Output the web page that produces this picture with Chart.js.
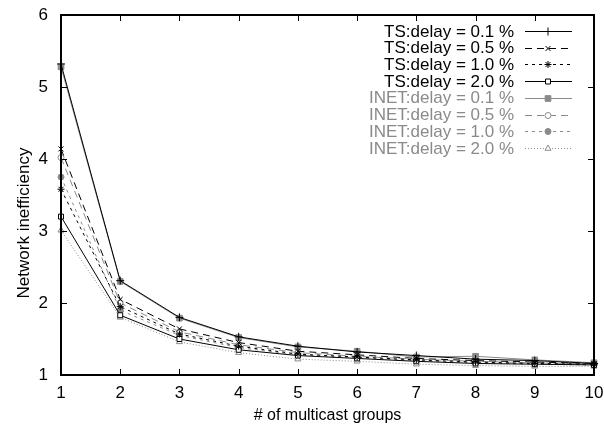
<!DOCTYPE html>
<html>
<head>
<meta charset="utf-8">
<script src="https://cdn.jsdelivr.net/npm/chart.js@4.4.0/dist/chart.umd.min.js"></script>
<style>
  html, body { margin: 0; padding: 0; background: #fff; }
  canvas { display: block; }
</style>
</head>
<body>
<canvas id="chart" width="604" height="431"></canvas>
<script>
// groups on the x axis
const groups = [1, 2, 3, 4, 5, 6, 7, 8, 9, 10];

// TS topology, one list per delay bound
const ts01 = [5.32, 2.31, 1.80, 1.53, 1.40, 1.32, 1.27, 1.22, 1.20, 1.16];
const ts05 = [4.14, 2.05, 1.64, 1.45, 1.33, 1.28, 1.23, 1.20, 1.18, 1.16];
const ts10 = [3.58, 1.95, 1.57, 1.40, 1.29, 1.25, 1.21, 1.18, 1.16, 1.15];
const ts20 = [3.20, 1.83, 1.50, 1.35, 1.27, 1.23, 1.19, 1.16, 1.15, 1.14];

// INET topology
const inet01 = [5.28, 2.30, 1.79, 1.52, 1.39, 1.33, 1.25, 1.26, 1.21, 1.17];
const inet05 = [4.02, 2.00, 1.60, 1.42, 1.31, 1.26, 1.22, 1.19, 1.17, 1.15];
const inet10 = [3.75, 1.90, 1.55, 1.38, 1.28, 1.24, 1.20, 1.17, 1.15, 1.14];
const inet20 = [3.01, 1.80, 1.46, 1.31, 1.22, 1.19, 1.15, 1.13, 1.12, 1.12];

const labels = [
    'TS:delay = 0.1 %', 'TS:delay = 0.5 %', 'TS:delay = 1.0 %', 'TS:delay = 2.0 %',
    'INET:delay = 0.1 %', 'INET:delay = 0.5 %', 'INET:delay = 1.0 %', 'INET:delay = 2.0 %'
];
const seriesValues = [ts01, ts05, ts10, ts20, inet01, inet05, inet10, inet20];

const xTitle = '# of multicast groups';
const yTitle = 'Network inefficiency';

const BLACK = '#000000';
const GREY = '#8a8a8a';

// how each line looks
const styles = [
    { color: BLACK, dash: [], point: 'cross', fill: BLACK, r: 4 },
    { color: BLACK, dash: [7, 5], point: 'crossRot', fill: BLACK, r: 3.5 },
    { color: BLACK, dash: [3, 4], point: 'star', fill: BLACK, r: 3.5 },
    { color: BLACK, dash: [], point: 'rect', fill: '#ffffff', r: 3.5 },
    { color: GREY, dash: [], point: 'rect', fill: GREY, r: 4 },
    { color: GREY, dash: [7, 5], point: 'circle', fill: '#ffffff', r: 3 },
    { color: GREY, dash: [3, 4], point: 'circle', fill: GREY, r: 3 },
    { color: GREY, dash: [1, 2], point: 'triangle', fill: '#ffffff', r: 3.5 }
];

const font = "'Liberation Sans', Arial, Helvetica, sans-serif";

const datasets = seriesValues.map((vals, i) => ({
    label: labels[i],
    data: groups.map((g, j) => ({ x: g, y: vals[j] })),
    borderColor: styles[i].color,
    borderWidth: 1,
    borderDash: styles[i].dash,
    pointStyle: styles[i].point,
    pointRadius: styles[i].r,
    pointBorderColor: styles[i].color,
    pointBackgroundColor: styles[i].fill,
    pointBorderWidth: 1,
    tension: 0,
    clip: false
}));

// gnuplot style frame with inward ticks on all four sides, plus y title
const framePlugin = {
    id: 'frame',
    afterDatasetsDraw(chart) {
        const { ctx, chartArea: a, scales } = chart;
        ctx.save();
        ctx.strokeStyle = BLACK;
        ctx.lineWidth = 1;
        ctx.setLineDash([]);
        ctx.beginPath();
        scales.x.ticks.forEach(t => {
            const px = Math.round(scales.x.getPixelForValue(t.value)) + 0.5;
            ctx.moveTo(px, a.bottom); ctx.lineTo(px, a.bottom - 6);
            ctx.moveTo(px, a.top); ctx.lineTo(px, a.top + 6);
        });
        scales.y.ticks.forEach(t => {
            const py = Math.round(scales.y.getPixelForValue(t.value)) + 0.5;
            ctx.moveTo(a.left, py); ctx.lineTo(a.left + 6, py);
            ctx.moveTo(a.right, py); ctx.lineTo(a.right - 6, py);
        });
        ctx.stroke();
        ctx.lineWidth = 2;
        ctx.strokeRect(a.left, a.top, a.right - a.left, a.bottom - a.top);

        // y title sits a bit below the middle, like the original
        ctx.translate(24, 223);
        ctx.rotate(-Math.PI / 2);
        ctx.font = '17px ' + font;
        ctx.fillStyle = BLACK;
        ctx.textAlign = 'center';
        ctx.textBaseline = 'middle';
        ctx.fillText(yTitle, 0, 0);
        ctx.restore();
    }
};

// key in the top right corner: text first, then line sample
const keyPlugin = {
    id: 'key',
    afterDraw(chart) {
        const { ctx } = chart;
        ctx.save();
        ctx.font = '17px ' + font;
        ctx.textAlign = 'right';
        ctx.textBaseline = 'middle';
        chart.data.datasets.forEach((ds, i) => {
            const y = 31 + i * 16.7;
            ctx.fillStyle = ds.borderColor;
            ctx.fillText(ds.label, 514, y + 1);
            ctx.strokeStyle = ds.borderColor;
            ctx.lineWidth = 1;
            ctx.setLineDash(ds.borderDash);
            ctx.beginPath();
            ctx.moveTo(525, Math.round(y) + 0.5);
            ctx.lineTo(572, Math.round(y) + 0.5);
            ctx.stroke();
            ctx.setLineDash([]);
            ctx.fillStyle = ds.pointBackgroundColor;
            Chart.helpers.drawPoint(ctx, {
                pointStyle: ds.pointStyle,
                radius: ds.pointRadius,
                borderWidth: 1,
                rotation: 0
            }, 548, Math.round(y) + 0.5);
        });
        ctx.restore();
    }
};

new Chart(document.getElementById('chart'), {
    type: 'line',
    data: { datasets },
    options: {
        responsive: false,
        animation: false,
        layout: { padding: { top: 15, right: 10, left: 0, bottom: 0 } },
        plugins: {
            legend: { display: false },
            tooltip: { enabled: false }
        },
        scales: {
            x: {
                type: 'linear',
                min: 1,
                max: 10,
                grid: { display: false, drawTicks: false },
                border: { display: false },
                ticks: { stepSize: 1, color: BLACK, font: { family: font, size: 17 }, padding: 8, maxRotation: 0 },
                title: { display: true, text: xTitle, color: BLACK, font: { family: font, size: 16 }, padding: { top: 0, bottom: 6 } },
                afterFit(scale) {
                    scale.height = 56;
                    scale.paddingLeft = 0;
                    scale.paddingRight = 0;
                }
            },
            y: {
                min: 1,
                max: 6,
                grid: { display: false, drawTicks: false },
                border: { display: false },
                ticks: { stepSize: 1, color: BLACK, font: { family: font, size: 17 }, padding: 13 },
                afterFit(scale) {
                    scale.width = 61;
                    scale.paddingTop = 0;
                    scale.paddingBottom = 0;
                }
            }
        }
    },
    plugins: [framePlugin, keyPlugin]
});
</script>
</body>
</html>
